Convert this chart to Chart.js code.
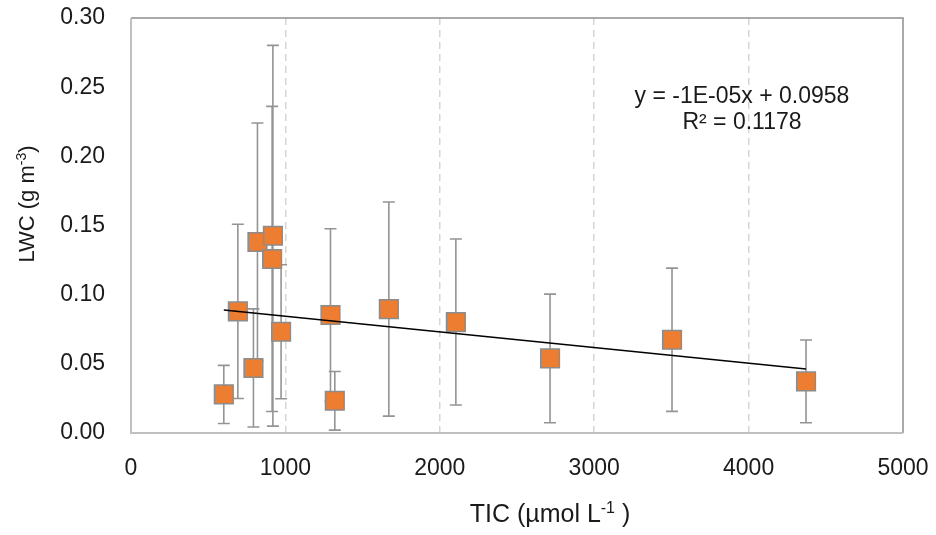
<!DOCTYPE html>
<html>
<head>
<meta charset="utf-8">
<script src="https://cdn.jsdelivr.net/npm/chart.js@4.4.1/dist/chart.umd.min.js"></script>
<style>
  html, body { margin: 0; padding: 0; background: #fff; }
  #wrap { width: 936px; height: 535px; }
</style>
</head>
<body>
<div id="wrap"><canvas id="lwcChart" width="936" height="535"></canvas></div>
<script>
// values
const ticValues = [601, 692, 793, 819, 914, 919, 972, 1292, 1320, 1670, 2104, 2714, 3504, 4372];
const lwcValues = [0.0279, 0.0879, 0.0470, 0.1381, 0.1258, 0.1426, 0.0732, 0.0853, 0.0233, 0.0896, 0.0802, 0.0539, 0.0674, 0.0373];
const lwcErrors = [0.0210, 0.0630, 0.0427, 0.0860, 0.1103, 0.1376, 0.0484, 0.0623, 0.0212, 0.0774, 0.0600, 0.0465, 0.0518, 0.0299];

// trendline end points (linear fit shown on the chart)
const trendX = [601, 4372];
const trendY = [0.0889, 0.0463];
const trendLabels = ['y = -1E-05x + 0.0958', 'R² = 0.1178'];

const xTicks = [0, 1000, 2000, 3000, 4000, 5000];
const yTicks = [0, 0.05, 0.10, 0.15, 0.20, 0.25, 0.30];

const FONT = "'Liberation Sans', Arial, sans-serif";
const TEXT_COLOR = '#1a1a1a';

// text with a superscript part, centred on x
function drawRichText(ctx, parts, x, y, size) {
    const supSize = Math.round(size * 0.62);
    let total = 0;
    parts.forEach(p => {
        ctx.font = (p.sup ? supSize : size) + 'px ' + FONT;
        p.w = ctx.measureText(p.t).width;
        total += p.w;
    });
    let cx = x - total / 2;
    ctx.textAlign = 'left';
    ctx.textBaseline = 'alphabetic';
    parts.forEach(p => {
        ctx.font = (p.sup ? supSize : size) + 'px ' + FONT;
        ctx.fillText(p.t, cx, p.sup ? y - size * 0.38 : y);
        cx += p.w;
    });
}

function noScalePadding(axis) {
    axis.paddingLeft = 0;
    axis.paddingRight = 0;
    axis.paddingTop = 0;
    axis.paddingBottom = 0;
}

const errorBars = {
    id: 'errorBars',
    beforeDatasetsDraw(chart) {
        const { ctx, scales: { x, y } } = chart;
        ctx.save();
        ctx.strokeStyle = '#949494';
        ctx.lineWidth = 1.6;
        ticValues.forEach((v, i) => {
            const px = x.getPixelForValue(v);
            const top = y.getPixelForValue(lwcValues[i] + lwcErrors[i]);
            const bot = y.getPixelForValue(lwcValues[i] - lwcErrors[i]);
            ctx.beginPath();
            ctx.moveTo(px, top); ctx.lineTo(px, bot);
            ctx.moveTo(px - 6, top); ctx.lineTo(px + 6, top);
            ctx.moveTo(px - 6, bot); ctx.lineTo(px + 6, bot);
            ctx.stroke();
        });
        ctx.restore();
    }
};

const frameAndText = {
    id: 'frameAndText',
    beforeDatasetsDraw(chart) {
        const { ctx, chartArea: a } = chart;
        ctx.save();
        ctx.lineWidth = 1.5;
        ctx.strokeStyle = '#8e8e8e';
        ctx.beginPath();
        ctx.moveTo(a.left, a.top); ctx.lineTo(a.right, a.top); ctx.lineTo(a.right, a.bottom);
        ctx.stroke();
        ctx.lineWidth = 2;
        ctx.strokeStyle = '#c0c0c0';
        ctx.beginPath();
        ctx.moveTo(a.left, a.top); ctx.lineTo(a.left, a.bottom); ctx.lineTo(a.right, a.bottom);
        ctx.stroke();
        ctx.restore();
    },
    afterDraw(chart) {
        const { ctx } = chart;
        ctx.save();
        ctx.fillStyle = TEXT_COLOR;
        // x axis title
        drawRichText(ctx, [{ t: 'TIC (µmol L' }, { t: '-1', sup: true }, { t: ' )' }], 550, 522, 25);
        // y axis title
        ctx.translate(34, 204);
        ctx.rotate(-Math.PI / 2);
        drawRichText(ctx, [{ t: 'LWC (g m' }, { t: '-3', sup: true }, { t: ')' }], 0, 0, 22);
        ctx.restore();

        // trendline equation
        ctx.save();
        ctx.fillStyle = TEXT_COLOR;
        ctx.font = '23px ' + FONT;
        ctx.textAlign = 'center';
        ctx.textBaseline = 'alphabetic';
        ctx.fillText(trendLabels[0], 742, 103);
        ctx.fillText(trendLabels[1], 742, 129);
        ctx.restore();
    }
};

const ctx = document.getElementById('lwcChart').getContext('2d');

new Chart(ctx, {
    type: 'scatter',
    data: {
        datasets: [
            {
                label: 'trend',
                type: 'line',
                data: trendX.map((v, i) => ({ x: v, y: trendY[i] })),
                borderColor: '#000',
                borderWidth: 1.5,
                pointRadius: 0,
                fill: false,
                order: 0
            },
            {
                label: 'LWC',
                data: ticValues.map((v, i) => ({ x: v, y: lwcValues[i] })),
                pointStyle: 'rect',
                pointRadius: 13.2,
                pointHoverRadius: 13.2,
                backgroundColor: '#ED7D31',
                borderColor: '#8c8c8c',
                borderWidth: 1.5,
                order: 1
            }
        ]
    },
    options: {
        responsive: false,
        animation: false,
        layout: { padding: { left: 0, top: 18, right: 33, bottom: 0 } },
        plugins: {
            legend: { display: false },
            tooltip: { enabled: false }
        },
        scales: {
            x: {
                type: 'linear',
                min: 0,
                max: 5000,
                afterBuildTicks: axis => { axis.ticks = xTicks.map(v => ({ value: v })); },
                afterFit: axis => { axis.height = 102; noScalePadding(axis); },
                ticks: {
                    padding: 22,
                    color: TEXT_COLOR,
                    font: { family: FONT, size: 23 },
                    callback: v => String(v)
                },
                grid: {
                    drawTicks: false,
                    lineWidth: 1.5,
                    borderDash: [7, 5],
                    color: c => (c.tick && (c.tick.value === 0 || c.tick.value === 5000)) ? 'rgba(0,0,0,0)' : '#d6d6d6'
                },
                border: { display: false, dash: [7, 5] }
            },
            y: {
                min: 0,
                max: 0.30,
                afterBuildTicks: axis => { axis.ticks = yTicks.map(v => ({ value: v })); },
                afterFit: axis => { axis.width = 131; noScalePadding(axis); },
                ticks: {
                    padding: 26,
                    color: TEXT_COLOR,
                    font: { family: FONT, size: 23 },
                    callback: v => v.toFixed(2)
                },
                grid: { display: false, drawTicks: false },
                border: { display: false }
            }
        }
    },
    plugins: [errorBars, frameAndText]
});
</script>
</body>
</html>
